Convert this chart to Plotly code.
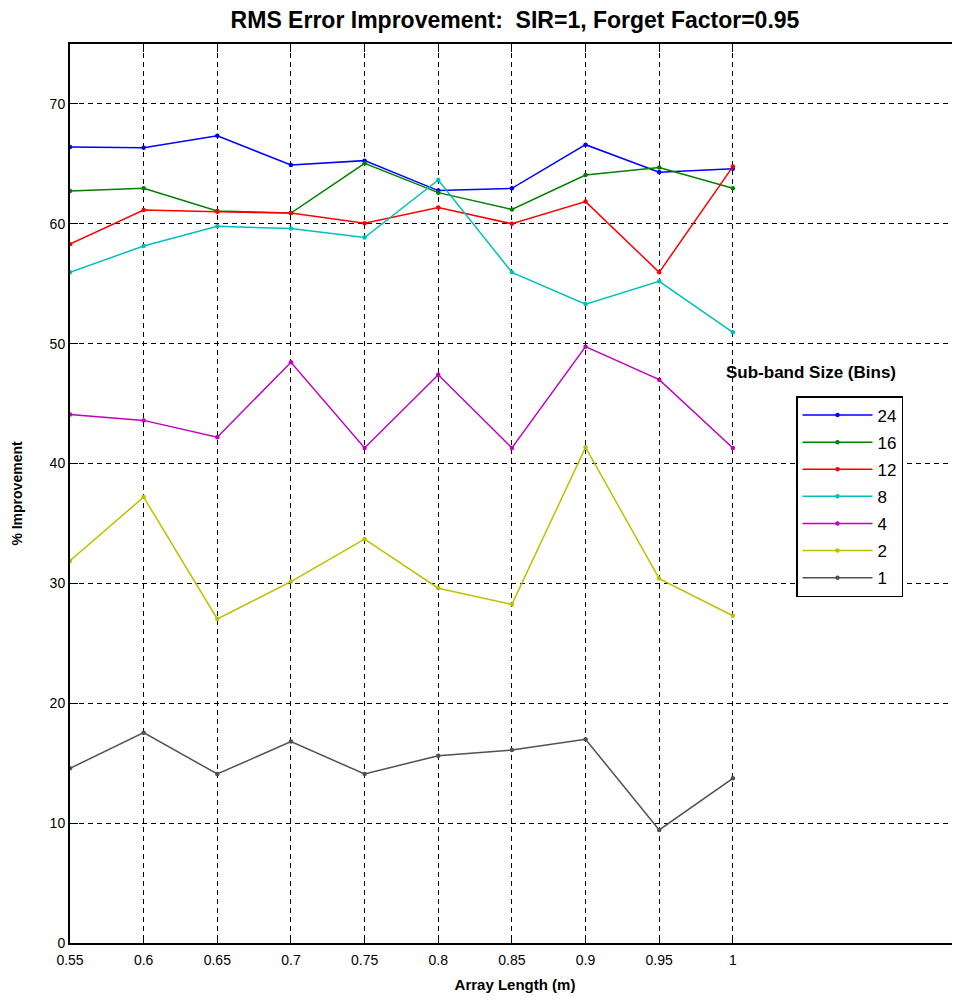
import plotly.graph_objects as go

x_vals = [0.55, 0.6, 0.65, 0.7, 0.75, 0.8, 0.85, 0.9, 0.95, 1.0]

s24 = [66.4, 66.35, 67.35, 64.9, 65.27, 62.77, 62.96, 66.6, 64.3, 64.6]
s16 = [62.74, 62.96, 61.07, 60.9, 65.05, 62.6, 61.2, 64.07, 64.7, 62.96]
s12 = [58.3, 61.15, 61.0, 60.9, 60.05, 61.35, 60.0, 61.85, 55.95, 64.77]
s8 = [55.95, 58.15, 59.8, 59.6, 58.85, 63.66, 55.95, 53.3, 55.2, 50.95]
s4 = [44.1, 43.6, 42.2, 48.45, 41.3, 47.4, 41.3, 49.75, 47.0, 41.3]
s2 = [31.9, 37.2, 27.03, 30.15, 33.7, 29.6, 28.25, 41.35, 30.4, 27.3]
s1 = [14.57, 17.55, 14.1, 16.8, 14.1, 15.63, 16.1, 17.0, 9.43, 13.74]

series_names = ["24", "16", "12", "8", "4", "2", "1"]
series_values = [s24, s16, s12, s8, s4, s2, s1]
series_colors = ["#0000FF", "#008000", "#FF0000", "#00BFBF", "#BF00BF", "#BFBF00", "#505050"]

x_ticks = [0.55, 0.6, 0.65, 0.7, 0.75, 0.8, 0.85, 0.9, 0.95, 1.0]
x_ticktext = ["0.55", "0.6", "0.65", "0.7", "0.75", "0.8", "0.85", "0.9", "0.95", "1"]
y_ticks = [0, 10, 20, 30, 40, 50, 60, 70]

font_main = "Liberation Sans Narrow, Arial Narrow, Liberation Sans, Arial, sans-serif"

# page body has an 8px margin; compensate so the plot box lands at (70..960, 44..943)
W, H = 952, 985
ML, MT = 62, 36
MB = H - (943 - 8)

fig = go.Figure()
for name, vals, col in zip(series_names, series_values, series_colors):
    fig.add_trace(go.Scatter(
        x=x_vals, y=vals, name=name, mode="lines+markers",
        line=dict(color=col, width=1.5),
        marker=dict(color=col, size=4.5),
        legendgroup=name,
    ))

fig.update_layout(
    width=W, height=H,
    margin=dict(l=ML, r=0, t=MT, b=MB, autoexpand=False),
    plot_bgcolor="white", paper_bgcolor="white",
    title=dict(text="<b>RMS Error Improvement:  SIR=1, Forget Factor=0.95</b>",
               x=(ML + W) / 2 / W, xanchor="center", y=1 - 12 / H, yanchor="middle",
               font=dict(family=font_main, size=23, color="black")),
    font=dict(family=font_main, size=14, color="black"),
    showlegend=True,
    legend=dict(x=(796 - 70) / 890, y=(943 - 396) / 899, xanchor="left", yanchor="top",
                bordercolor="black", borderwidth=1.5, bgcolor="white",
                font=dict(family="Liberation Sans, Arial, sans-serif", size=17, color="black"),
                tracegroupgap=2, itemwidth=70),
    annotations=[dict(text="<b>Sub-band Size (Bins)</b>", x=(724 - 70) / 890, y=(943 - 372) / 899,
                      xref="paper", yref="paper", xanchor="left", yanchor="middle", showarrow=False,
                      font=dict(family="Liberation Sans, Arial, sans-serif", size=17, color="black"))],
)

fig.update_xaxes(
    range=[0.55, 0.55 + 890 / 1473], tickvals=x_ticks, ticktext=x_ticktext,
    showgrid=True, gridcolor="black", griddash="5px,4px", gridwidth=1,
    showline=True, linecolor="black", linewidth=2, mirror="ticks",
    ticks="inside", ticklen=8, tickcolor="black",
    zeroline=False, automargin=False, ticklabelstandoff=3,
    title=dict(text="<b>Array Length (m)</b>", font=dict(size=15), standoff=13),
    tickfont=dict(size=14),
)
fig.update_yaxes(
    range=[0, 75], tickvals=y_ticks,
    showgrid=True, gridcolor="black", griddash="5px,4px", gridwidth=1,
    showline=True, linecolor="black", linewidth=2, mirror="ticks",
    ticks="inside", ticklen=8, tickcolor="black",
    zeroline=False, automargin=False,
    title=dict(text="<b>% Improvement</b>", font=dict(size=14), standoff=24),
    tickfont=dict(size=14),
)

fig.write_html("out.html")
